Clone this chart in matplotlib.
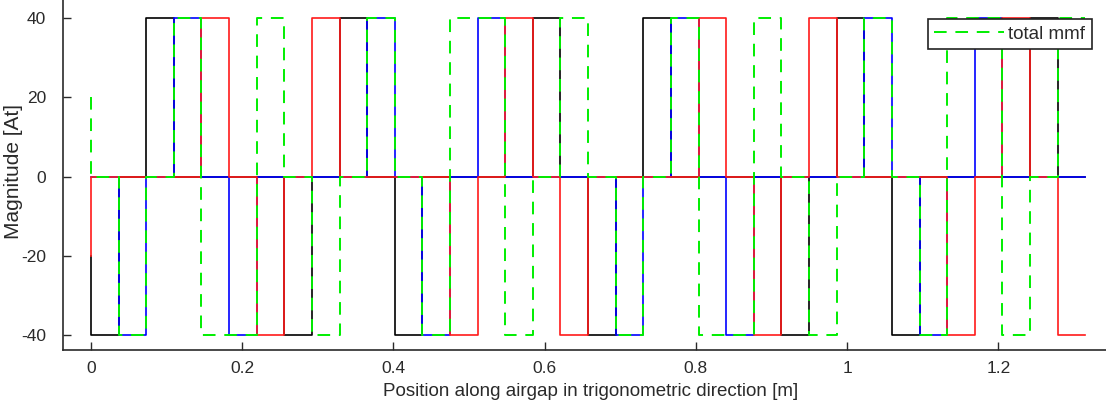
#!/bin/env python
# -*- coding: utf-8 -*-
"""
Slot mmf of the three phase windings and the total mmf along the airgap.
"""

import matplotlib
matplotlib.use('Agg')
import matplotlib.pyplot as plt
import numpy as np

# airgap length [m] and number of slots
airgap_length = 1.315
n_slots = 36

# mmf per slot [At] for each phase (one value per slot pitch)
phase_a = [-40, 0, 40, 0, 0, 0, 0, -40, 0,
           40, 0, -40, 0, 0, 0, 0, 40, 0,
           -40, 0, 40, 0, 0, 0, 0, -40, 0,
           40, 0, -40, 0, 0, 0, 0, 40, 0]
phase_b = [0, -40, 0, 40, 0, -40, 0, 0, 0,
           0, 40, 0, -40, 0, 40, 0, 0, 0,
           0, -40, 0, 40, 0, -40, 0, 0, 0,
           0, 40, 0, -40, 0, 40, 0, 0, 0]
phase_c = [0, 0, 0, 0, 40, 0, -40, 0, 40,
           0, 0, 0, 0, -40, 0, 40, 0, -40,
           0, 0, 0, 0, 40, 0, -40, 0, 40,
           0, 0, 0, 0, -40, 0, 40, 0, -40]
total_mmf = [0, -40, 0, 40, -40, -40, 40, 0, -40,
             0, 40, 0, -40, 40, 40, -40, 0, 40,
             0, -40, 0, 40, -40, -40, 40, 0, -40,
             0, 40, 0, -40, 40, 40, -40, 0, 40]
# value at position 0 (first sample of each curve)
start_values = {'a': -20, 'b': 0, 'c': -20, 'total': 20}

x_ticks = [0, 0.2, 0.4, 0.6, 0.8, 1.0, 1.2]
x_tick_labels = ['0', '0.2', '0.4', '0.6', '0.8', '1', '1.2']
y_ticks = [-40, -20, 0, 20, 40]
y_tick_labels = ['-40', '-20', '0', '20', '40']

edges = np.linspace(0, airgap_length, n_slots + 1)


def staircase(values, start):
    """turn per-slot values into x, y points of a step curve"""
    xs = np.concatenate([[0.0], np.repeat(edges, 2)[1:-1]])
    ys = np.concatenate([[start], np.repeat(values, 2)])
    return xs, ys


plt.rcParams['font.family'] = ['Liberation Sans', 'DejaVu Sans']
text_col = '#2a2a2a'

W, H = 1106, 409
fig = plt.figure(figsize=(W / 100.0, H / 100.0), dpi=100)
ax = fig.add_axes([63.0 / W, 59.0 / H, (W - 63.0) / W, 350.0 / H])

lw = 1.2
ax.plot(*staircase(phase_a, start_values['a']), color='k', lw=lw)
ax.plot(*staircase(phase_b, start_values['b']), color='#0000ff', lw=lw)
ax.plot(*staircase(phase_c, start_values['c']), color='#ff1a1a', lw=lw)
ax.plot(*staircase(total_mmf, start_values['total']), color='#00ee00',
        lw=1.4, dashes=(6.5, 4.5), label='total mmf')

ax.set_xlim(-0.037, 1.3425)
ax.set_ylim(-43.8, 44.6)
ax.set_xticks(x_ticks)
ax.set_xticklabels(x_tick_labels)
ax.set_yticks(y_ticks)
ax.set_yticklabels(y_tick_labels)
ax.tick_params(direction='in', length=6, width=1, colors=text_col,
               labelsize=12.5)
ax.tick_params(axis='x', pad=8)
ax.tick_params(axis='y', pad=12)
for side in ('top', 'right'):
    ax.spines[side].set_visible(False)
for side in ('left', 'bottom'):
    ax.spines[side].set_color(text_col)
    ax.spines[side].set_linewidth(1.2)

ax.set_xlabel('Position along airgap in trigonometric direction [m]',
              fontsize=13.5, color=text_col)
ax.xaxis.set_label_coords(0.506, -33.0 / 350)
ax.set_ylabel('Magnitude [At]', fontsize=15, color=text_col)
ax.yaxis.set_label_coords(-40.0 / 1043, 0.51)

leg = ax.legend(loc='upper right', bbox_to_anchor=(1092.0 / W, 1 - 19.0 / H),
                bbox_transform=fig.transFigure, borderaxespad=0,
                fancybox=False, framealpha=1, edgecolor='#222222',
                fontsize=13.5, handlelength=3.7, handletextpad=0.25,
                borderpad=0.35)
leg.get_frame().set_linewidth(1.2)
for t in leg.get_texts():
    t.set_color(text_col)

fig.savefig('out.png', dpi=100)
